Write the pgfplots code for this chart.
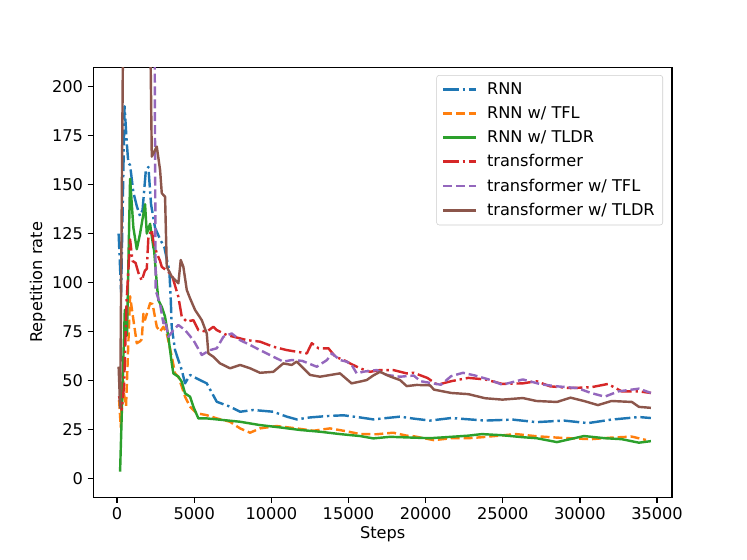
\documentclass[border=0pt]{standalone}
\usepackage{fontspec}
\setmainfont{DejaVu Sans}
\usepackage{pgfplots}
\pgfplotsset{compat=1.18}
\definecolor{C0}{HTML}{1F77B4}
\definecolor{C1}{HTML}{FF7F0E}
\definecolor{C2}{HTML}{2CA02C}
\definecolor{C3}{HTML}{D62728}
\definecolor{C4}{HTML}{9467BD}
\definecolor{C5}{HTML}{8C564B}
\newcommand{\fs}{\fontsize{12.15}{14.5}\selectfont}
\begin{document}
\begin{tikzpicture}
\path[use as bounding box] (0,0) rectangle (560.25pt,420pt);
\begin{axis}[
  at={(70pt,47pt)}, anchor=south west,
  scale only axis, width=434pt, height=322.5pt,
  xmin=-1540, xmax=35970, ymin=-9.7, ymax=209.9,
  xtick={0,5000,...,35000}, ytick={0,25,...,200},
  scaled x ticks=false,
  /pgf/number format/1000 sep={},
  /pgf/number format/assume math mode=true,
  tick align=outside, xtick pos=left, ytick pos=left,
  major tick length=4.25pt,
  every tick/.style={black, line width=0.97pt},
  axis line style={line width=0.97pt},
  ticklabel style={font=\fs},
  xlabel={Steps}, ylabel={Repetition rate},
  label style={font=\fs},
  xlabel style={yshift=2pt},
  ylabel style={yshift=-2pt},
  legend cell align=left,
  legend style={at={(1,1)}, anchor=north east, xshift=-6.75pt, yshift=-5.8pt,
    draw=black!20, rounded corners=2pt, fill=white, fill opacity=0.8, text opacity=1,
    font=\fs, row sep=3.6pt, inner xsep=4pt, inner ysep=3.5pt},
  legend image code/.code={\draw[#1] (0pt,0pt) -- (25pt,0pt); \path (30pt,0pt);},
  every axis plot/.append style={line width=1.82pt, line join=round},
]
\addplot[C0, dash pattern=on 11.7pt off 2.9pt on 1.8pt off 2.9pt] coordinates {
(100,125) (260,95) (486,190) (630,171) (730,161) (842,160) (1056,146) (1277,139) (1490,134) (1650,137) (1860,157) (2030,159) (2200,140) (2460,128) (2790,122) (3065,118) (3220,112) (3389,106) (3480,91) (3545,77) (3758,65.5) (3972,60.4) (4193,55.3) (4406,48.5) (4730,52.8) (5165,51) (5813,48.5) (6461,39.1) (7322,36.6) (7970,34) (8832,34.9) (10128,34) (11000,31.5) (11640,30.1) (12506,31.1) (13600,31.8) (14670,32.2) (15746,31.1) (16610,30.1) (18338,31.5) (19226,30.5) (20282,29.5) (21656,30.8) (23866,29.5) (25635,30) (27184,28.7) (28966,29.5) (30521,28.2) (32050,30) (33826,31.3) (34603,30.8)
};
\addlegendentry{RNN}
\addplot[C1, dash pattern=on 6.74pt off 2.92pt] coordinates {
(130,40) (240,26) (370,54) (450,43) (580,37) (842,93) (1056,81) (1277,69) (1490,70) (1600,71) (1704,84) (1814,81) (2138,89.4) (2300,89) (2573,77.4) (2786,74.9) (3000,77.4) (3221,74) (3545,62.1) (3758,53.6) (3972,51.9) (4193,46.8) (4406,41.7) (4730,36.6) (5165,33.2) (5800,32.3) (6461,30.6) (7322,28.9) (7970,25.5) (8620,23.3) (9266,25.5) (10340,26.7) (11640,25.5) (12723,24.3) (13800,25.5) (14900,24) (15746,22.6) (16800,22.5) (17900,23.3) (18773,21.8) (19226,21.5) (20542,19.5) (21656,20.5) (22764,20.5) (23652,21) (25855,22.6) (27184,21.5) (28512,20.8) (29840,20.3) (30715,20) (32050,20.8) (33372,21.3) (34280,19.6)
};
\addlegendentry{RNN w/ TFL}
\addplot[C2] coordinates {
(194,3.4) (500,86) (560,80) (640,73) (842,153) (1056,128) (1277,117) (1490,125) (1814,140) (1925,125) (2138,130) (2352,118) (2398,116.6) (2573,99.6) (2676,91) (2897,87.6) (3110,82.5) (3324,72.3) (3545,58.7) (3648,53.6) (3972,51.9) (4193,49.3) (4406,43.4) (4730,41.7) (4944,36.6) (5268,30.6) (5813,30.6) (6461,30.1) (7970,28.9) (9266,27.2) (10562,26) (11858,24.7) (13154,23.8) (14450,22.6) (15746,21.6) (16610,20.4) (17700,21.2) (18773,20.9) (20282,20.5) (21656,21.2) (22764,21.8) (23652,22.6) (24974,22) (26302,21) (27184,20.5) (28512,18.5) (30262,21.6) (31609,20.5) (32711,20) (33826,18.2) (34603,19)
};
\addlegendentry{RNN w/ TLDR}
\addplot[C3, dash pattern=on 11.7pt off 2.9pt on 1.8pt off 2.9pt] coordinates {
(130,42) (300,35) (450,47) (620,91) (842,122) (1000,111) (1200,110) (1380,105) (1600,101) (1800,106) (1925,107) (2028,123) (2249,127) (2352,121) (2573,115) (2786,111) (2897,108) (3221,106) (3545,104) (3648,101.3) (3972,92.7) (4193,82.5) (4517,80) (4944,80.8) (5268,75.7) (5813,74.9) (6240,77.4) (6461,75.7) (7108,73.2) (8405,70.6) (9266,69.8) (10128,67.2) (11000,65.5) (12300,63.8) (12617,69) (13060,66.4) (13700,66.4) (14150,62.1) (14800,60) (15098,58.7) (15746,56.2) (16394,54.4) (17042,55.3) (17900,55.3) (18773,53.6) (19226,53.9) (20107,51.3) (20768,47.8) (21656,49.6) (22764,51.3) (23866,50.5) (24974,48.2) (26302,48.5) (27184,49.6) (28058,47) (29393,46.1) (30715,46.5) (31817,48.2) (32711,44.4) (33826,44.4) (34603,43.6)
};
\addlegendentry{transformer}
\addplot[C4, dash pattern=on 6.74pt off 2.92pt] coordinates {
(130,380) (2350,380) (2500,96) (2786,89) (3000,79.2) (3110,80.8) (3324,72.3) (3648,75.7) (3972,78.3) (4406,75.7) (4944,70.6) (5489,63) (6026,65.5) (6461,66.4) (6890,72.3) (7430,74) (7970,70.6) (8620,68.1) (9266,65.5) (10128,62.1) (10776,59.6) (11320,60.4) (12000,60) (12941,57) (13600,60.4) (13930,63.8) (14450,60.4) (14885,59.6) (15200,58) (15532,53.6) (16000,54.5) (16829,55.3) (17470,52.8) (18338,51.9) (19226,52.5) (19667,49.6) (20995,47.8) (21656,52.2) (22427,53.9) (23200,52.5) (24086,50.5) (24974,47.8) (26302,50.5) (27500,48) (28500,47) (29840,46.1) (30715,43.6) (31609,41.7) (32491,44.4) (33826,45.8) (34603,43.6)
};
\addlegendentry{transformer w/ TFL}
\addplot[C5] coordinates {
(100,57) (200,36) (420,260) (2100,260) (2249,164.3) (2573,169.4) (2786,157.5) (2897,145.6) (3110,143.8) (3221,108) (3545,103) (3972,99.6) (4126,111.5) (4296,108) (4517,96.2) (4730,91.9) (5054,86) (5489,80.8) (5813,74) (5916,63.8) (6240,62.1) (6674,58.7) (7322,56.2) (7970,57.9) (8620,56.2) (9266,53.9) (10128,54.4) (10776,58.7) (11320,57.9) (11640,59.6) (12073,56.2) (12506,52.8) (13154,51.9) (14450,53.6) (15200,48.5) (15800,49.5) (16180,50.2) (16600,52.5) (17042,54.4) (17700,52) (18338,50.2) (18773,47.1) (19420,47.7) (20282,47.5) (20542,45.3) (21656,43.6) (22764,43) (23866,40.9) (24974,40.2) (26302,41) (27184,39.5) (28512,39) (29393,41.2) (30262,39.5) (31169,37.4) (32050,39.5) (33372,39) (33826,36.5) (34603,36)
};
\addlegendentry{transformer w/ TLDR}
\end{axis}
\end{tikzpicture}
\end{document}
